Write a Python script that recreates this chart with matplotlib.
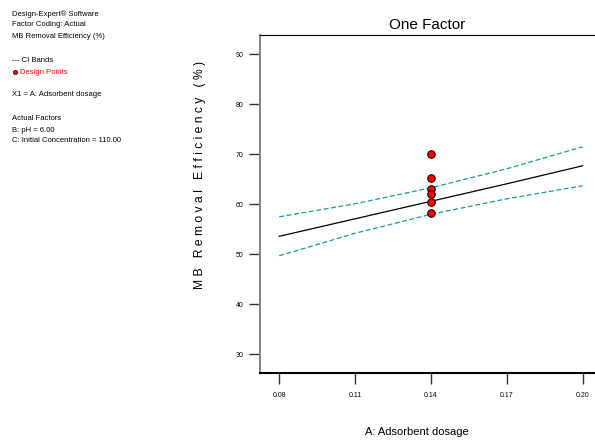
import matplotlib
matplotlib.use("Agg")
import matplotlib.pyplot as plt

plt.rcParams['font.family'] = ['Liberation Sans', 'DejaVu Sans']

# model line and confidence bands
dosage = [0.08, 0.11, 0.14, 0.17, 0.20]
fit = [53.6, 57.1, 60.6, 64.1, 67.7]
ci_upper = [57.5, 60.1, 63.3, 67.1, 71.5]
ci_lower = [49.7, 54.2, 58.0, 61.1, 63.7]

# design points
pts_x = [0.14, 0.14, 0.14, 0.14, 0.14, 0.14]
pts_y = [70.0, 65.3, 63.1, 62.1, 60.5, 58.2]

xticks = [0.08, 0.11, 0.14, 0.17, 0.20]
xtick_labels = ["0.08", "0.11", "0.14", "0.17", "0.20"]
yticks = [30, 40, 50, 60, 70, 80, 90]

fig = plt.figure(figsize=(5.95, 4.48), dpi=100)
ax = fig.add_axes([0.437, 0.1674, 0.563, 0.7545])

ax.plot(dosage, fit, color="black", lw=0.9)
ax.plot(dosage, ci_upper, color="#1a9a9a", lw=0.9, ls=(0, (4, 2)))
ax.plot(dosage, ci_lower, color="#1a9a9a", lw=0.9, ls=(0, (4, 2)))
ax.scatter(pts_x, pts_y, s=30, color="red", edgecolors="black", linewidths=0.7, zorder=5)

ax.set_xlim(0.0724, 0.2049)
ax.set_ylim(26.26, 93.86)
ax.set_xticks(xticks)
ax.set_xticklabels(xtick_labels)
ax.set_yticks(yticks)
ax.tick_params(axis="both", labelsize=5, length=8, width=1, direction="out", color="#333333")
ax.tick_params(axis="x", pad=6)
ax.tick_params(axis="y", pad=4)

ax.spines["right"].set_visible(False)
ax.spines["left"].set_color("#888888")
ax.spines["left"].set_linewidth(1.5)
ax.spines["bottom"].set_linewidth(1.5)
ax.spines["top"].set_linewidth(0.8)

ax.set_title("One Factor", fontsize=11, pad=4)
fig.text(0.70, 0.025, "A: Adsorbent dosage", fontsize=8, ha="center", va="bottom")
fig.text(0.336, 0.609, "M B   R e m o v a l   E f f i c i e n c y   ( % )",
         fontsize=8.7, rotation=90, ha="center", va="center")

# info text on the left
info = [
    ("Design-Expert® Software", "black", 14),
    ("Factor Coding: Actual", "black", 25),
    ("MB Removal Efficiency (%)", "black", 36),
    ("--- CI Bands", "black", 61),
    ("X1 = A: Adsorbent dosage", "black", 95),
    ("Actual Factors", "black", 119),
    ("B: pH = 6.00", "black", 130),
    ("C: Initial Concentration = 110.00", "black", 141),
]
for txt, col, y in info:
    fig.text(12 / 595, 1 - y / 448, txt, fontsize=5.5, color=col, va="center")
fig.text(20 / 595, 1 - 72 / 448, "Design Points", fontsize=5.5, color="red", va="center")
fig.lines.append(plt.Line2D([15 / 595], [1 - 72 / 448], marker="o", markersize=3,
                            color="red", markeredgecolor="black", markeredgewidth=0.5,
                            transform=fig.transFigure, figure=fig))

fig.savefig("out.png", dpi=100)
